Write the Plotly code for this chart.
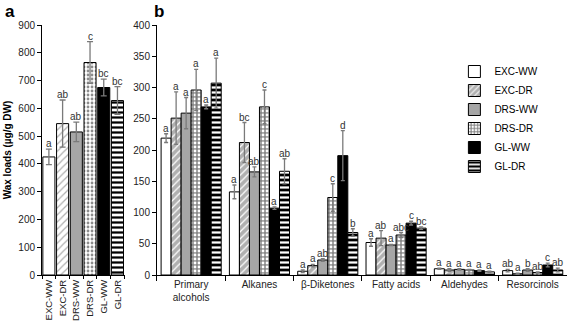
import plotly.graph_objects as go

series = ["EXC-WW", "EXC-DR", "DRS-WW", "DRS-DR", "GL-WW", "GL-DR"]
total_vals = [425, 545, 515, 765, 675, 628]
total_err = [28, 85, 35, 75, 30, 50]
total_letters = ["a", "ab", "ab", "c", "bc", "bc"]

classes = ["Primary<br>alcohols", "Alkanes", "β-Diketones", "Fatty acids", "Aldehydes", "Resorcinols"]
# values per series across classes
vals = {
    "EXC-WW": [219, 133, 6, 52, 10, 7],
    "EXC-DR": [251, 212, 15, 59, 8, 2],
    "DRS-WW": [259, 165, 24, 48, 9, 8],
    "DRS-DR": [296, 269, 124, 64, 8, 4],
    "GL-WW": [269, 107, 191, 83, 7, 16],
    "GL-DR": [307, 166, 68, 75, 5, 8],
}
errs = {
    "EXC-WW": [7, 11, 2, 6, 1, 2],
    "EXC-DR": [42, 32, 2, 12, 2, 1],
    "DRS-WW": [25, 8, 2, 1, 1, 2],
    "DRS-DR": [33, 27, 22, 4, 1, 1],
    "GL-WW": [3, 2, 40, 3, 1, 3],
    "GL-DR": [40, 20, 6, 2, 1, 3],
}
letters = {
    "EXC-WW": ["a", "a", "a", "a", "a", "ab"],
    "EXC-DR": ["a", "bc", "a", "ab", "a", "a"],
    "DRS-WW": ["a", "ab", "ab", "a", "a", "b"],
    "DRS-DR": ["a", "c", "c", "abc", "a", "ab"],
    "GL-WW": ["a", "a", "d", "c", "a", "c"],
    "GL-DR": ["a", "ab", "b", "bc", "a", "ab"],
}

styles = {
    "EXC-WW": dict(color="white", shape="", bg="white", fg="white", sol=0.3, size=5),
    "EXC-DR": dict(color="#b0b0b0", shape="/", bg="#b0b0b0", fg="white", sol=0.25, size=5),
    "DRS-WW": dict(color="#a6a6a6", shape="", bg="#a6a6a6", fg="#a6a6a6", sol=0.3, size=5),
    "DRS-DR": dict(color="#8a8a8a", shape=".", bg="#8a8a8a", fg="white", sol=0.38, size=4),
    "GL-WW": dict(color="black", shape="", bg="black", fg="black", sol=0.3, size=5),
    "GL-DR": dict(color="black", shape="-", bg="black", fg="white", sol=0.45, size=5),
}

FONT = "Liberation Sans, Arial, sans-serif"
err_color = "#7a7a7a"

fig = go.Figure()

# Panel a: single trace, per-bar styles
fig.add_trace(go.Bar(
    x=series, y=total_vals, xaxis="x", yaxis="y", showlegend=False,
    marker=dict(
        color=[styles[s]["color"] for s in series],
        line=dict(color="black", width=1),
        pattern=dict(
            shape=[styles[s]["shape"] for s in series],
            bgcolor=[styles[s]["bg"] for s in series],
            fgcolor=[styles[s]["fg"] for s in series],
            solidity=[styles[s]["sol"] for s in series],
            size=[styles[s]["size"] for s in series], fillmode="replace",
        ),
    ),
    error_y=dict(type="data", array=total_err, color=err_color, thickness=1.3, width=3),
))

# Panel b
for s in series:
    st = styles[s]
    fig.add_trace(go.Bar(
        x=classes, y=vals[s], name=s, xaxis="x2", yaxis="y2",
        marker=dict(
            color=st["color"], line=dict(color="black", width=1),
            pattern=dict(shape=st["shape"], bgcolor=st["bg"], fgcolor=st["fg"],
                         size=st["size"], solidity=st["sol"], fillmode="replace"),
        ),
        error_y=dict(type="data", array=errs[s], color=err_color, thickness=1.3, width=2),
    ))

annotations = []
for i, s in enumerate(series):
    annotations.append(dict(
        x=i, y=total_vals[i] + total_err[i], xref="x", yref="y",
        text=total_letters[i], showarrow=False, yanchor="bottom", yshift=-2,
        font=dict(family=FONT, size=10, color="#333")))

bargap_b = 0.12
grp = 1 - bargap_b
bw = grp / len(series)
for i, s in enumerate(series):
    for g in range(len(classes)):
        annotations.append(dict(
            x=g - grp / 2 + (i + 0.5) * bw, y=vals[s][g] + errs[s][g],
            xref="x2", yref="y2", text=letters[s][g], showarrow=False,
            yanchor="bottom", yshift=-2,
            font=dict(family=FONT, size=10, color="#333")))

annotations += [
    dict(x=0.005, y=1.0, xref="paper", yref="paper", xanchor="left", yanchor="bottom",
         yshift=2, text="<b>a</b>", showarrow=False, font=dict(family=FONT, size=17, color="black")),
    dict(x=0.268, y=1.0, xref="paper", yref="paper", xanchor="left", yanchor="bottom",
         yshift=2, text="<b>b</b>", showarrow=False, font=dict(family=FONT, size=17, color="black")),
]

axis_common = dict(showline=True, linecolor="black", linewidth=1, showgrid=False,
                   zeroline=False, ticks="outside", tickcolor="black", automargin=False,
                   tickfont=dict(family=FONT, size=10, color="#222"))

fig.update_layout(
    template="none",
    width=568, height=322,
    margin=dict(l=0, r=0, t=25, b=47),
    paper_bgcolor="white", plot_bgcolor="white",
    barmode="group", bargap=bargap_b, bargroupgap=0,
    font=dict(family=FONT, size=10, color="#222"),
    xaxis=dict(domain=[0.074, 0.22], anchor="y", type="category", tickangle=-90,
               tickson="boundaries", ticklen=3, **{**axis_common, "tickfont": dict(family=FONT, size=9.5, color="#222")}),
    yaxis=dict(domain=[0, 1], anchor="x", range=[0, 900], dtick=100, ticklen=4,
               title=dict(text="<b>Wax loads (µg/g DW)</b>", font=dict(family=FONT, size=10, color="black"),
                          standoff=4),
               **axis_common),
    xaxis2=dict(domain=[0.2764, 0.998], anchor="y2", type="category", tickson="boundaries",
                ticklen=5, **axis_common),
    yaxis2=dict(domain=[0, 1], anchor="x2", range=[0, 400], dtick=50, ticklen=4, **axis_common),
    legend=dict(x=0.80, y=0.872, xanchor="left", yanchor="top", bgcolor="rgba(0,0,0,0)",
                font=dict(family=FONT, size=10, color="black"), tracegroupgap=0,
                itemwidth=30),
    annotations=annotations,
)

fig.write_html("out.html", config={"displayModeBar": False},
               post_script="document.body.style.margin='0';document.body.style.overflow='hidden';")
